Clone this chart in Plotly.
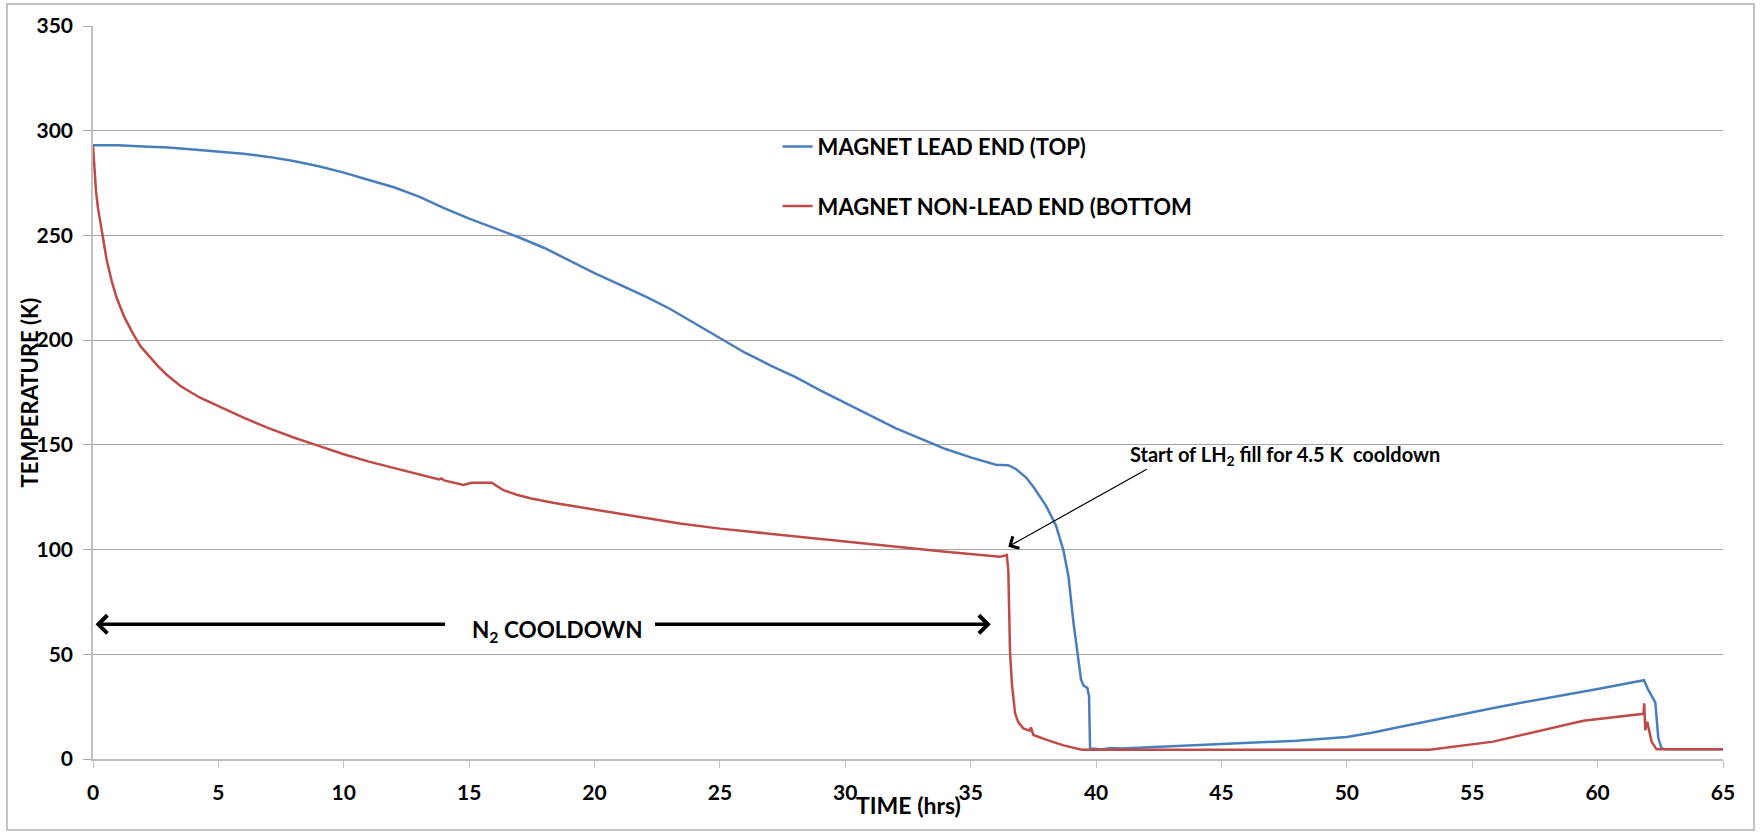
import plotly.graph_objects as go

# ---------------- data ----------------
time_top = [0, 1, 2, 3, 4, 5, 6, 7, 8, 9, 10, 11, 12, 13, 14, 15, 16, 17, 18, 19,
            20, 21, 22, 23, 24, 25, 26, 27, 28, 29, 30, 31, 32, 33, 34, 35, 36,
            36.5, 36.8, 37.2, 37.5, 38.0, 38.4, 38.7, 38.9, 39.1, 39.25, 39.4,
            39.5, 39.65, 39.72, 39.76, 40.2, 40.6, 41, 42, 44, 46, 48, 50, 51,
            52, 53, 54, 55, 56, 57, 58, 59, 60, 61, 61.85, 62.0, 62.2, 62.3,
            62.42, 62.55, 62.7, 65]
temp_top = [293, 293, 292.5, 292, 291, 290, 289, 287.5, 285.5, 283, 280, 276.5,
            273, 268.5, 263, 258, 253.5, 249, 244, 238, 232, 226.5, 221, 215,
            208, 201, 194, 188, 182.5, 176, 170, 164, 158, 153, 148, 144, 140.5,
            140.3, 138.5, 134.5, 130, 121, 111.5, 99.5, 87, 65, 50, 38, 35, 34,
            30, 5, 4.6, 5.3, 5.0, 5.5, 6.4, 7.5, 8.7, 10.5, 12.5, 15, 17.5, 20,
            22.3, 24.7, 27, 29.3, 31.3, 33.4, 35.5, 37.6, 33.5, 29.5, 27, 10,
            5.2, 4.6, 4.6]

time_bottom = [0, 0.03, 0.07, 0.12, 0.2, 0.28, 0.4, 0.55, 0.75, 0.95, 1.25, 1.6,
               1.9, 2.27, 2.6, 2.94, 3.5, 4.27, 5, 6, 7, 8, 9, 10, 11, 12, 13,
               13.8, 13.9, 14.0, 14.77, 15.1, 15.9, 16.36, 16.9, 17.43, 18.4,
               19.42, 21, 23.4, 25, 27.4, 30, 32.18, 34, 36.17, 36.44, 36.5,
               36.57, 36.65, 36.7, 36.77, 36.9, 37.1, 37.35, 37.4, 37.5, 38.03,
               38.7, 39.43, 45, 53.3, 55.84, 58.37, 59.43, 61.83, 61.86, 61.9,
               61.98, 62.15, 62.35, 65]
temp_bottom = [293, 288, 280, 271, 263, 257, 248, 238, 228, 220, 211, 203, 197,
               192, 187.5, 183.5, 178, 172.5, 168.5, 163, 158, 153.5, 149.5, 145.5,
               142, 139, 136, 133.5, 134, 133, 130.8, 131.9, 131.9, 128.4, 126.2,
               124.5, 122.2, 120.2, 117, 112.5, 110, 107, 104, 101.1, 99, 96.6,
               97.4, 90, 50.6, 35, 28, 21.8, 17.5, 14.6, 13.5, 15.1, 11.5, 9.1,
               6.5, 4.4, 4.4, 4.4, 8.3, 15.4, 18.3, 21.6, 26.6, 13.8, 17.8, 8.3,
               4.6, 4.6]

series_names = ["MAGNET LEAD END (TOP)", "MAGNET NON-LEAD END (BOTTOM"]
x_ticks = list(range(0, 66, 5))
y_ticks = list(range(0, 351, 50))
x_title = "TIME (hrs)"
y_title = "TEMPERATURE (K)"

# ---------------- figure ----------------
FONT = "Lato"
fig = go.Figure()
fig.add_trace(go.Scatter(x=time_top, y=temp_top, mode="lines", name=series_names[0],
                         line=dict(color="#4a7ebb", width=2.5), legendgroup="a"))
fig.add_trace(go.Scatter(x=time_bottom, y=temp_bottom, mode="lines", name=series_names[1],
                         line=dict(color="#be4b48", width=2.5), legendgroup="b"))

fig.update_layout(
    width=1760, height=834,
    margin=dict(l=93, r=37, t=26, b=75),
    paper_bgcolor="white", plot_bgcolor="white",
    font=dict(family=FONT, color="black", size=20, weight="bold"),
    showlegend=True,
    legend=dict(x=0.42, y=0.864, xanchor="left", yanchor="top",
                font=dict(family=FONT, size=22, weight="bold", color="black"),
                bgcolor="rgba(0,0,0,0)", itemwidth=30, tracegroupgap=28,
                traceorder="grouped"),
)
fig.update_xaxes(range=[0, 65], tickvals=x_ticks, showgrid=False, zeroline=False,
                 automargin=False,
                 showline=True, linecolor="#bfbfbf", linewidth=2,
                 ticks="outside", ticklen=7, tickcolor="#bfbfbf", tickwidth=1,
                 ticklabelstandoff=7,
                 tickfont=dict(family=FONT, size=21, weight="bold"))
fig.update_yaxes(range=[0, 350], tickvals=y_ticks, showgrid=True,
                 gridcolor="#a6a6a6", gridwidth=1, zeroline=False,
                 automargin=False,
                 showline=True, linecolor="#bfbfbf", linewidth=1.5,
                 ticks="outside", ticklen=8, tickcolor="#a6a6a6", tickwidth=1,
                 ticklabelstandoff=6,
                 tickfont=dict(family=FONT, size=21, weight="bold"))

# axis titles (placed as in the reference)
fig.add_annotation(x=0.5, y=-0.0628, xref="paper", yref="paper",
                   xanchor="center", yanchor="middle", showarrow=False,
                   text=x_title, font=dict(family=FONT, size=23, weight="bold"))
fig.add_annotation(x=-0.0387, y=0.5, xref="paper", yref="paper",
                   xanchor="center", yanchor="middle", showarrow=False,
                   textangle=-90,
                   text=y_title, font=dict(family=FONT, size=22, weight="bold"))

# outer chart border
fig.add_shape(type="rect", xref="paper", yref="paper",
              x0=-0.0528, x1=1.019, y0=-0.0969, y1=1.03,
              line=dict(color="#b0b0b0", width=1.5), fillcolor="rgba(0,0,0,0)")

# LH2 annotation
fig.add_annotation(x=41.27, y=145, xref="x", yref="y", xanchor="left",
                   yanchor="middle", showarrow=False,
                   text="Start of LH<sub>2</sub> fill for 4.5 K&nbsp; cooldown",
                   font=dict(family=FONT, size=20, weight="bold"))
fig.add_annotation(x=36.5, y=101.4, ax=42.08, ay=138.8, xref="x", yref="y",
                   axref="x", ayref="y", text="", showarrow=True, arrowhead=4,
                   arrowsize=2.2, arrowwidth=1.2, arrowcolor="black")

# N2 cooldown double arrow
fig.add_annotation(x=18.5, y=61, xref="x", yref="y", showarrow=False,
                   text="N<sub>2</sub> COOLDOWN",
                   font=dict(family=FONT, size=22.5, weight="bold"))
fig.add_annotation(x=0.1, y=64.3, ax=14.1, ay=64.3, xref="x", yref="y",
                   axref="x", ayref="y", text="", showarrow=True, arrowhead=4,
                   arrowsize=1.0, arrowwidth=3.5, arrowcolor="black")
fig.add_annotation(x=35.8, y=64.3, ax=22.35, ay=64.3, xref="x", yref="y",
                   axref="x", ayref="y", text="", showarrow=True, arrowhead=4,
                   arrowsize=1.0, arrowwidth=3.5, arrowcolor="black")

fig.write_html("out.html", config={"displayModeBar": False},
               post_script="document.body.style.margin='0px';")
